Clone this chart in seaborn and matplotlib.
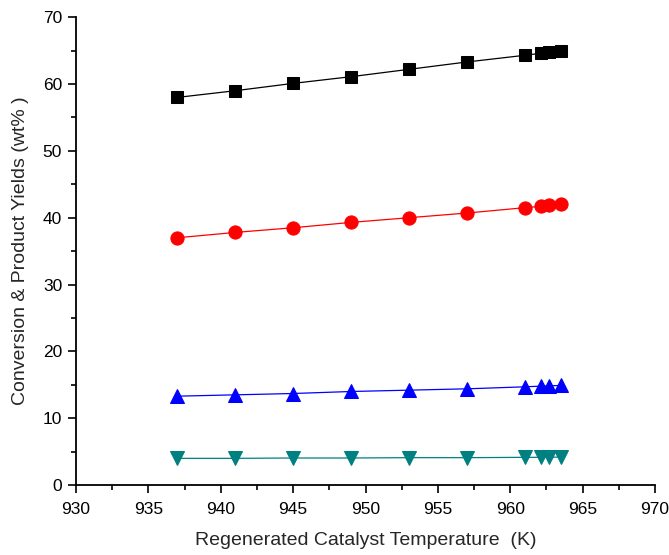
import matplotlib
matplotlib.use("Agg")
import matplotlib.pyplot as plt
from matplotlib.ticker import MultipleLocator
import seaborn as sns
import pandas as pd

# Regenerated catalyst temperature (K)
temperature = [937, 941, 945, 949, 953, 957, 961, 962.1, 962.7, 963.5]

# Yields (wt%)
conversion = [58.0, 59.0, 60.1, 61.1, 62.2, 63.3, 64.3, 64.6, 64.8, 65.0]
gasoline = [37.0, 37.8, 38.5, 39.3, 40.0, 40.7, 41.5, 41.7, 41.9, 42.1]
lpg = [13.3, 13.5, 13.7, 14.0, 14.2, 14.4, 14.7, 14.8, 14.85, 14.9]
dry_gas = [4.0, 4.0, 4.05, 4.05, 4.1, 4.1, 4.15, 4.15, 4.15, 4.2]

series = [
    ("Conversion", conversion, "#000000", "s", 8.5),
    ("Gasoline", gasoline, "#ff0000", "o", 9.5),
    ("LPG", lpg, "#0000ff", "^", 10),
    ("Dry gas", dry_gas, "#008080", "v", 10),
]

sns.set_style("ticks")
plt.rcParams["font.family"] = ["Liberation Sans", "DejaVu Sans"]

fig = plt.figure(figsize=(6.69, 5.55), dpi=100)
ax = fig.add_axes([0.1136, 0.126, 0.8655, 0.843])

for name, values, color, marker, size in series:
    df = pd.DataFrame({"T": temperature, "y": values})
    sns.lineplot(data=df, x="T", y="y", ax=ax, color=color, marker=marker,
                 markersize=size, markeredgecolor=color, linewidth=0.9,
                 label=name, legend=False)

ax.set_xlim(930, 970)
ax.set_ylim(0, 70)
ax.xaxis.set_major_locator(MultipleLocator(5))
ax.xaxis.set_minor_locator(MultipleLocator(2.5))
ax.yaxis.set_major_locator(MultipleLocator(10))
ax.yaxis.set_minor_locator(MultipleLocator(5))
ax.tick_params(which="major", direction="out", length=6, width=1.2,
               labelsize=12.5, color="black", labelcolor="black")
ax.tick_params(axis="x", which="major", pad=6)
ax.tick_params(axis="y", which="major", pad=4)
ax.tick_params(which="minor", direction="out", length=3.5, width=1.2, color="black")

for side in ("top", "right"):
    ax.spines[side].set_visible(False)
for side in ("left", "bottom"):
    ax.spines[side].set_linewidth(1.3)
    ax.spines[side].set_color("black")

ax.set_xlabel("Regenerated Catalyst Temperature  (K)", fontsize=14, labelpad=11)
ax.set_ylabel("Conversion & Product Yields (wt% )", fontsize=14, labelpad=10)

fig.savefig("out.png", dpi=100)
